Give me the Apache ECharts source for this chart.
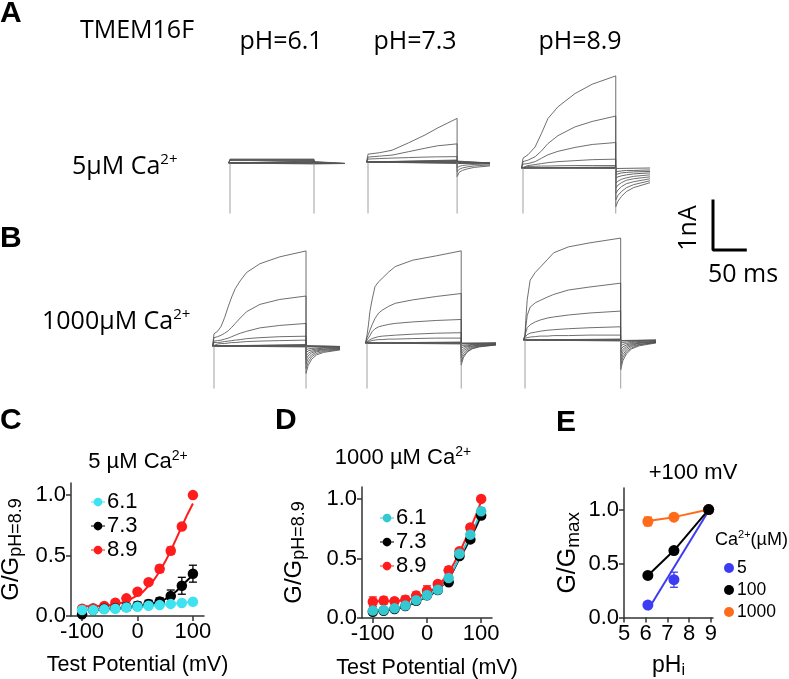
<!DOCTYPE html>
<html><head><meta charset="utf-8">
<script src="https://cdn.jsdelivr.net/npm/echarts@6/dist/echarts.min.js"></script>
<style>html,body{margin:0;padding:0;background:#fff}#c{width:789px;height:679px}</style>
</head><body><div id="c"></div>
<script>
// ================= DATA =================
// Current traces (time in ms from step onset, current in nA)
const STEP_MS = 130;
const TAIL_T = [0, 3, 8, 15, 25, 48];      // ms after step end
const CAP_I = -5;                           // clipped capacitive transient (nA)

// A: 5 uM Ca2+, pH 6.1
const A61_T = [0, 130];
const A61_I = [];
const A61_BAND = [0.08, 0.07, 0.06, 0.05, 0.04, 0.03, 0.02, 0.01, 0, -0.01, -0.02];
const A61_TAIL = [];
const A61_BAND_TAIL = -0.01;
// A: 5 uM Ca2+, pH 7.3
const A73_T = [0, 17, 35, 59, 83, 101, 130];
const A73_I = [
  [0.16, 0.19, 0.24, 0.39, 0.55, 0.69, 0.89],
  [0.10, 0.12, 0.14, 0.21, 0.28, 0.33, 0.37],
  [0.06, 0.07, 0.08, 0.09, 0.10, 0.105, 0.11]
];
const A73_BAND = [0.04, 0.03, 0.02, 0.01, 0, -0.01, -0.02, -0.03];
const A73_TAIL = [
  [-0.30, -0.21, -0.17, -0.14, -0.11, -0.08],
  [-0.20, -0.15, -0.12, -0.10, -0.08, -0.06],
  [-0.12, -0.09, -0.07, -0.06, -0.05, -0.04]
];
const A73_BAND_TAIL = -0.02;
// A: 5 uM Ca2+, pH 8.9
const A89_T = [0, 7, 17, 26, 35, 49, 73, 97, 130];
const A89_I = [
  [0.20, 0.27, 0.43, 0.71, 1.01, 1.25, 1.52, 1.71, 1.88],
  [0.13, 0.16, 0.23, 0.35, 0.50, 0.66, 0.84, 0.95, 1.06],
  [0.08, 0.09, 0.13, 0.20, 0.27, 0.34, 0.42, 0.48, 0.52],
  [0.04, 0.05, 0.07, 0.09, 0.11, 0.13, 0.15, 0.17, 0.18],
  [0.03, 0.03, 0.035, 0.04, 0.04, 0.045, 0.05, 0.05, 0.05]
];
const A89_BAND = [0.02, 0.01, 0, -0.01];
const A89_TAIL = [
  [-0.79, -0.68, -0.58, -0.48, -0.40, -0.30],
  [-0.65, -0.56, -0.48, -0.40, -0.34, -0.26],
  [-0.52, -0.45, -0.38, -0.32, -0.28, -0.22],
  [-0.41, -0.35, -0.30, -0.25, -0.22, -0.18],
  [-0.31, -0.27, -0.23, -0.20, -0.17, -0.14],
  [-0.21, -0.18, -0.16, -0.14, -0.12, -0.10],
  [-0.14, -0.12, -0.10, -0.09, -0.08, -0.07],
  [-0.08, -0.07, -0.06, -0.05, -0.05, -0.04]
];
const A89_BAND_TAIL = 0;
// B: 1000 uM Ca2+, pH 6.1
const B61_T = [0, 5, 10, 15, 20, 25, 30, 37, 46, 65, 93, 130];
const B61_I = [
  [0.25, 0.30, 0.40, 0.58, 0.80, 1.00, 1.17, 1.33, 1.50, 1.68, 1.82, 1.94],
  [0.17, 0.19, 0.22, 0.26, 0.31, 0.38, 0.46, 0.57, 0.70, 0.85, 0.95, 1.02],
  [0.10, 0.11, 0.12, 0.14, 0.16, 0.19, 0.22, 0.26, 0.30, 0.37, 0.42, 0.46],
  [0.07, 0.07, 0.08, 0.09, 0.10, 0.11, 0.12, 0.13, 0.15, 0.17, 0.19, 0.20],
  [0.04, 0.04, 0.05, 0.05, 0.06, 0.07, 0.07, 0.08, 0.09, 0.10, 0.11, 0.12]
];
const B61_BAND = [0.03, 0.02, 0.01, 0, -0.01, -0.02];
const B61_TAIL = [
  [-0.56, -0.40, -0.27, -0.18, -0.13, -0.08],
  [-0.46, -0.33, -0.22, -0.15, -0.11, -0.07],
  [-0.36, -0.26, -0.18, -0.12, -0.09, -0.06],
  [-0.28, -0.20, -0.14, -0.10, -0.07, -0.05],
  [-0.21, -0.15, -0.11, -0.08, -0.06, -0.04],
  [-0.14, -0.10, -0.08, -0.06, -0.04, -0.03],
  [-0.08, -0.06, -0.05, -0.04, -0.03, -0.02]
];
const B61_BAND_TAIL = -0.01;
// B: 1000 uM Ca2+, pH 7.3
const B73_T = [0, 2, 4, 7, 11, 16, 21, 30, 39, 63, 96, 130];
const B73_I = [
  [0.16, 0.37, 0.64, 0.88, 1.15, 1.25, 1.32, 1.45, 1.56, 1.69, 1.78, 1.88],
  [0.11, 0.18, 0.26, 0.37, 0.50, 0.61, 0.67, 0.75, 0.81, 0.88, 0.95, 1.01],
  [0.06, 0.10, 0.15, 0.23, 0.29, 0.33, 0.35, 0.38, 0.40, 0.43, 0.46, 0.48],
  [0.03, 0.05, 0.07, 0.09, 0.11, 0.13, 0.14, 0.15, 0.16, 0.18, 0.20, 0.21],
  [0.02, 0.03, 0.04, 0.05, 0.06, 0.07, 0.07, 0.08, 0.08, 0.09, 0.10, 0.10]
];
const B73_BAND = [0.02, 0.01, 0, -0.01, -0.02];
const B73_TAIL = [
  [-0.45, -0.30, -0.19, -0.12, -0.08, -0.04],
  [-0.38, -0.26, -0.17, -0.11, -0.07, -0.04],
  [-0.30, -0.21, -0.14, -0.09, -0.06, -0.03],
  [-0.23, -0.16, -0.11, -0.07, -0.05, -0.03],
  [-0.17, -0.12, -0.08, -0.06, -0.04, -0.02],
  [-0.11, -0.08, -0.06, -0.04, -0.03, -0.02],
  [-0.06, -0.05, -0.04, -0.03, -0.02, -0.01]
];
const B73_BAND_TAIL = 0;
// B: 1000 uM Ca2+, pH 8.9
const B89_T = [0, 1, 3, 7, 14, 21, 31, 39, 59, 87, 130];
const B89_I = [
  [0.10, 0.40, 0.82, 1.22, 1.38, 1.49, 1.65, 1.78, 1.90, 1.98, 2.08],
  [0.10, 0.25, 0.50, 0.67, 0.76, 0.81, 0.88, 0.93, 1.02, 1.08, 1.16],
  [0.08, 0.15, 0.25, 0.31, 0.37, 0.41, 0.45, 0.47, 0.51, 0.55, 0.59],
  [0.05, 0.08, 0.11, 0.14, 0.16, 0.18, 0.20, 0.21, 0.23, 0.25, 0.27],
  [0.03, 0.04, 0.05, 0.06, 0.07, 0.08, 0.08, 0.09, 0.09, 0.10, 0.10]
];
const B89_BAND = [0.02, 0.01, 0, -0.01, -0.02];
const B89_TAIL = [
  [-0.61, -0.42, -0.28, -0.18, -0.12, -0.06],
  [-0.52, -0.36, -0.24, -0.16, -0.10, -0.05],
  [-0.43, -0.30, -0.20, -0.13, -0.09, -0.05],
  [-0.35, -0.24, -0.16, -0.11, -0.07, -0.04],
  [-0.27, -0.19, -0.13, -0.09, -0.06, -0.03],
  [-0.20, -0.14, -0.10, -0.07, -0.05, -0.03],
  [-0.13, -0.09, -0.07, -0.05, -0.03, -0.02],
  [-0.07, -0.05, -0.04, -0.03, -0.02, -0.01]
];
const B89_BAND_TAIL = 0;

// Scale bar: 1 nA, 50 ms
const SCALE_BAR = [[0, 1], [0, 0], [50, 0]];

// C / D: normalized conductance vs test potential
const V = [-100, -80, -60, -40, -20, 0, 20, 40, 60, 80, 100];
const C_61 = [0.05, 0.05, 0.055, 0.06, 0.07, 0.077, 0.085, 0.09, 0.10, 0.107, 0.118];
const C_61_ERR = [0.005, 0.005, 0.005, 0.005, 0.005, 0.01, 0.01, 0.01, 0.01, 0.01, 0.01];
const C_73 = [0.014, 0.05, 0.06, 0.065, 0.075, 0.085, 0.10, 0.12, 0.165, 0.25, 0.35];
const C_73_ERR = [0.01, 0.01, 0.01, 0.01, 0.03, 0.03, 0.03, 0.03, 0.05, 0.07, 0.07];
const C_89 = [0.06, 0.065, 0.083, 0.11, 0.146, 0.20, 0.28, 0.39, 0.54, 0.74, 1.0];
const C_89_ERR = [0.005, 0.005, 0.01, 0.01, 0.01, 0.01, 0.02, 0.03, 0.03, 0.02, 0];
const FIT_V = [-100, -80, -60, -40, -20, 0, 10, 20, 30, 40, 50, 60, 70, 80, 90, 100];
const C_FIT61 = [0.05, 0.052, 0.056, 0.06, 0.066, 0.073, 0.077, 0.082, 0.086, 0.09, 0.095, 0.10, 0.104, 0.108, 0.113, 0.117];
const C_FIT73 = [0.05, 0.05, 0.055, 0.06, 0.068, 0.08, 0.087, 0.095, 0.105, 0.12, 0.14, 0.17, 0.205, 0.25, 0.295, 0.34];
const C_FIT89 = [0.08, 0.08, 0.085, 0.095, 0.12, 0.17, 0.20, 0.25, 0.30, 0.37, 0.45, 0.54, 0.64, 0.74, 0.84, 0.93];

const D_61 = [0.062, 0.067, 0.081, 0.104, 0.15, 0.193, 0.238, 0.336, 0.54, 0.70, 0.896];
const D_61_ERR = [0.01, 0.01, 0.01, 0.01, 0.01, 0.01, 0.01, 0.02, 0.02, 0.02, 0.03];
const D_73 = [0.053, 0.06, 0.075, 0.10, 0.145, 0.19, 0.235, 0.30, 0.52, 0.66, 0.86];
const D_73_ERR = [0.01, 0.01, 0.01, 0.01, 0.01, 0.01, 0.01, 0.01, 0.02, 0.02, 0.02];
const D_89 = [0.137, 0.146, 0.14, 0.154, 0.188, 0.23, 0.286, 0.40, 0.56, 0.76, 1.0];
const D_89_ERR = [0.04, 0.03, 0.02, 0.03, 0.03, 0.04, 0.02, 0.03, 0.02, 0.02, 0];
const D_FIT61 = [0.06, 0.065, 0.078, 0.10, 0.14, 0.185, 0.21, 0.24, 0.285, 0.34, 0.42, 0.51, 0.60, 0.69, 0.79, 0.89];
const D_FIT73 = [0.055, 0.06, 0.073, 0.095, 0.135, 0.18, 0.205, 0.235, 0.28, 0.33, 0.41, 0.50, 0.58, 0.67, 0.76, 0.86];
const D_FIT89 = [0.14, 0.14, 0.142, 0.15, 0.17, 0.21, 0.235, 0.27, 0.32, 0.38, 0.46, 0.55, 0.65, 0.75, 0.86, 0.98];

// E: G/Gmax at +100 mV vs pHi
const PH = [6.1, 7.3, 8.9];
const E_5 = [0.115, 0.35, 1.0];
const E_5_ERR = [0.01, 0.07, 0];
const E_100 = [0.39, 0.62, 1.0];
const E_100_ERR = [0.01, 0.01, 0];
const E_1000 = [0.89, 0.93, 1.0];
const E_1000_ERR = [0.04, 0.01, 0];
const E_FIT5_X = [6.1, 8.9];
const E_FIT5 = [0.07, 0.99];
const E_FIT100 = [0.39, 0.62, 1.0];
const E_FIT1000 = [0.895, 0.93, 1.0];

// ================= LAYOUT =================
const FONT = "'Liberation Sans', Arial, sans-serif";
const FONT2 = "'Open Sans', 'Liberation Sans', sans-serif";
const PX_PER_NA = 49;
const Y_TOP_NA = 2.3;
const T_MIN = -2, T_MAX = STEP_MS + TAIL_T[TAIL_T.length - 1];

const tracePanels = [
  {x0: 230, x1: 345, base: 163, bottom: 213, T: A61_T, I: A61_I, band: A61_BAND, tail: A61_TAIL, bandTail: A61_BAND_TAIL},
  {x0: 368, x1: 490, base: 162, bottom: 213, T: A73_T, I: A73_I, band: A73_BAND, tail: A73_TAIL, bandTail: A73_BAND_TAIL},
  {x0: 523, x1: 650, base: 168, bottom: 213, T: A89_T, I: A89_I, band: A89_BAND, tail: A89_TAIL, bandTail: A89_BAND_TAIL},
  {x0: 214, x1: 340, base: 346, bottom: 388, T: B61_T, I: B61_I, band: B61_BAND, tail: B61_TAIL, bandTail: B61_BAND_TAIL},
  {x0: 367, x1: 496, base: 343, bottom: 388, T: B73_T, I: B73_I, band: B73_BAND, tail: B73_TAIL, bandTail: B73_BAND_TAIL},
  {x0: 525, x1: 656, base: 340, bottom: 388, T: B89_T, I: B89_I, band: B89_BAND, tail: B89_TAIL, bandTail: B89_BAND_TAIL}
];

const grids = [], xAxes = [], yAxes = [], series = [];

tracePanels.forEach((p) => {
  const gi = grids.length;
  const pxms = (p.x1 - p.x0) / T_MAX;
  const left = p.x0 + T_MIN * pxms;
  const top = p.base - Y_TOP_NA * PX_PER_NA;
  grids.push({left: left, top: top, width: p.x1 - left, height: p.bottom - top, outerBoundsMode: 'none'});
  xAxes.push({type: 'value', gridIndex: gi, min: T_MIN, max: T_MAX, show: false});
  yAxes.push({type: 'value', gridIndex: gi, min: -(p.bottom - p.base) / PX_PER_NA, max: Y_TOP_NA, show: false});
  const line = (data, color, w) => ({
    type: 'line', xAxisIndex: gi, yAxisIndex: gi, data: data, showSymbol: false, symbol: 'none',
    lineStyle: {width: w, color: color}, silent: true, animation: false, clip: true, z: 2
  });
  let k = 0;
  p.I.forEach((row) => {
    const d = [[T_MIN, 0], [0, 0]];
    p.T.forEach((t, j) => d.push([t, row[j]]));
    const tl = p.tail[k++];
    if (tl) tl.forEach((v, j) => d.push([STEP_MS + TAIL_T[j], v]));
    series.push(line(d, '#4a4a4a', 0.8));
  });
  p.band.forEach((v) => {
    const d = [[T_MIN, 0], [0, 0], [0, v], [STEP_MS, v]];
    const tl = p.tail[k++];
    if (tl) tl.forEach((tv, j) => d.push([STEP_MS + TAIL_T[j], tv]));
    else { d.push([STEP_MS, p.bandTail]); d.push([T_MAX, p.bandTail]); }
    series.push(line(d, '#555', 0.9));
  });
  series.push(line([[0, 0], [0, CAP_I]], '#888', 0.8));
  series.push(line([[STEP_MS, 0], [STEP_MS, CAP_I]], '#888', 0.8));
});

// scale bar grid (same ms / nA scale as traces)
{
  const gi = grids.length;
  const pxms = (tracePanels[0].x1 - tracePanels[0].x0) / T_MAX;
  grids.push({left: 713, top: 201, width: 50 * pxms, height: PX_PER_NA, outerBoundsMode: 'none'});
  xAxes.push({type: 'value', gridIndex: gi, min: 0, max: 50, show: false});
  yAxes.push({type: 'value', gridIndex: gi, min: 0, max: 1, show: false});
  series.push({type: 'line', xAxisIndex: gi, yAxisIndex: gi, data: SCALE_BAR, showSymbol: false, symbol: 'none',
    lineStyle: {width: 3, color: '#000', cap: 'square'}, clip: false, silent: true, animation: false});
}

// ---------- C, D, E ----------
const AX = '#333';
function valAxis(gi, min, max, ticks, fmt, extra) {
  return Object.assign({
    type: 'value', gridIndex: gi, min: min, max: max,
    axisLine: {show: true, onZero: false, lineStyle: {color: AX, width: 1.5}},
    axisTick: {show: true, customValues: ticks, length: 5, lineStyle: {color: AX, width: 1.5}},
    axisLabel: {show: true, customValues: ticks, formatter: fmt, fontSize: 22, fontFamily: FONT, color: '#000', margin: 5},
    splitLine: {show: false}, nameMoveOverlap: false
  }, extra);
}
const fmt1 = (v) => v.toFixed(1);
const fmt0 = (v) => String(Math.round(v));

function errRender(color) {
  return function (params, api) {
    const x = api.value(0), y = api.value(1), e = api.value(2);
    if (!e) return null;
    const p1 = api.coord([x, y + e]), p2 = api.coord([x, y - e]);
    const w = 4, st = {stroke: color, lineWidth: 1.3};
    return {type: 'group', children: [
      {type: 'line', shape: {x1: p1[0], y1: p1[1], x2: p2[0], y2: p2[1]}, style: st},
      {type: 'line', shape: {x1: p1[0] - w, y1: p1[1], x2: p1[0] + w, y2: p1[1]}, style: st},
      {type: 'line', shape: {x1: p2[0] - w, y1: p2[1], x2: p2[0] + w, y2: p2[1]}, style: st}
    ]};
  };
}
function addGroup(gi, name, xs, ys, errs, fitX, fitY, color, z, size) {
  series.push({type: 'line', xAxisIndex: gi, yAxisIndex: gi, data: fitX.map((x, i) => [x, fitY[i]]),
    showSymbol: false, symbol: 'none', lineStyle: {width: 2, color: color}, z: 3 + z, silent: true, animation: false});
  series.push({type: 'custom', xAxisIndex: gi, yAxisIndex: gi, renderItem: errRender(color), encode: {x: 0, y: 1},
    data: xs.map((x, i) => [x, ys[i], errs[i]]), z: 4 + z, silent: true, animation: false, clip: false});
  series.push({type: 'scatter', name: name, xAxisIndex: gi, yAxisIndex: gi, data: xs.map((x, i) => [x, ys[i]]),
    symbol: 'circle', symbolSize: size, itemStyle: {color: color, opacity: 1}, z: 5 + z, silent: true, animation: false});
}

const RED = '#ff1c1c', CYAN_C = '#3fe3f0', CYAN_D = '#33c8d2', BLUE = '#3c3cf2', ORANGE = '#ff6b1a';
const richSub = {
  big: {fontSize: 24, fontFamily: FONT, color: '#000', lineHeight: 26},
  sub: {fontSize: 18, fontFamily: FONT, color: '#000', verticalAlign: 'bottom', padding: [10, 0, 0, 0]}
};

// C
const giC = grids.length;
grids.push({left: 71, top: 483, width: 133, height: 133, outerBoundsMode: 'none'});
xAxes.push(valAxis(giC, -120, 120, [-100, 0, 100], fmt0, {name: 'Test Potential (mV)', nameLocation: 'middle', nameGap: 38,
  nameTextStyle: {fontSize: 21.5, fontFamily: FONT, color: '#000'}}));
yAxes.push(valAxis(giC, 0, 1.1, [0, 0.5, 1.0], fmt1, {name: '{big|G/G}{sub|pH=8.9}', nameLocation: 'middle', nameGap: 46, nameRotate: 90,
  nameTextStyle: {rich: richSub}}));
addGroup(giC, 'C8.9', V, C_89, C_89_ERR, FIT_V, C_FIT89, RED, 0, 10.5);
addGroup(giC, 'C7.3', V, C_73, C_73_ERR, FIT_V, C_FIT73, '#000', 1, 10.5);
addGroup(giC, 'C6.1', V, C_61, C_61_ERR, FIT_V, C_FIT61, CYAN_C, 2, 10.5);

// D
const giD = grids.length;
grids.push({left: 362, top: 487, width: 130, height: 131, outerBoundsMode: 'none'});
xAxes.push(valAxis(giD, -120, 120, [-100, 0, 100], fmt0, {name: 'Test Potential (mV)', nameLocation: 'middle', nameGap: 39,
  nameTextStyle: {fontSize: 21.5, fontFamily: FONT, color: '#000'}}));
yAxes.push(valAxis(giD, 0, 1.1, [0, 0.5, 1.0], fmt1, {name: '{big|G/G}{sub|pH=8.9}', nameLocation: 'middle', nameGap: 54, nameRotate: 90,
  nameTextStyle: {rich: richSub}}));
addGroup(giD, 'D8.9', V, D_89, D_89_ERR, FIT_V, D_FIT89, RED, 0, 10.5);
addGroup(giD, 'D7.3', V, D_73, D_73_ERR, FIT_V, D_FIT73, '#000', 1, 10.5);
addGroup(giD, 'D6.1', V, D_61, D_61_ERR, FIT_V, D_FIT61, CYAN_D, 2, 10.5);

// E
const giE = grids.length;
grids.push({left: 624, top: 488, width: 89, height: 129.5, outerBoundsMode: 'none'});
xAxes.push(valAxis(giE, 5, 9.1, [5, 6, 7, 8, 9], fmt0, {name: '{big|pH}{sub|i}', nameLocation: 'middle', nameGap: 35,
  nameTextStyle: {rich: {big: {fontSize: 23, fontFamily: FONT, color: '#000', lineHeight: 24}, sub: {fontSize: 16, fontFamily: FONT, color: '#000', verticalAlign: 'bottom', padding: [10, 0, 0, 0]}}}}));
yAxes.push(valAxis(giE, 0, 1.2, [0, 0.5, 1.0], fmt1, {name: '{big|G/G}{sub|max}', nameLocation: 'middle', nameGap: 41, nameRotate: 90,
  nameTextStyle: {rich: {big: {fontSize: 25, fontFamily: FONT, color: '#000', lineHeight: 27}, sub: {fontSize: 19, fontFamily: FONT, color: '#000', verticalAlign: 'bottom', padding: [10, 0, 0, 0]}}}}));
addGroup(giE, 'E5', PH, E_5, E_5_ERR, E_FIT5_X, E_FIT5, BLUE, 0, 11);
addGroup(giE, 'E1000', PH, E_1000, E_1000_ERR, PH, E_FIT1000, ORANGE, 1, 11);
addGroup(giE, 'E100', PH, E_100, E_100_ERR, PH, E_FIT100, '#000', 2, 11);

// legends
const legendText = (name) => name.replace(/^[CDE]/, '');
const LEG_ICON = 'path://M0,4.4H16V5.6H0Z M8,0A5,5,0,1,1,7.99,0Z';
const legC = {show: true, orient: 'vertical', left: 86, top: 486, itemGap: 2, itemWidth: 14, itemHeight: 10, icon: LEG_ICON,
  data: ['C6.1', 'C7.3', 'C8.9'], formatter: legendText, selectedMode: false,
  textStyle: {fontSize: 22, fontFamily: FONT, color: '#000', padding: [0, 0, 0, -3]}};
const legD = Object.assign({}, legC, {left: 375, top: 502, data: ['D6.1', 'D7.3', 'D8.9']});
const legE = {show: true, orient: 'vertical', left: 719, top: 554, itemGap: 4, itemWidth: 10, itemHeight: 10, icon: 'circle',
  data: ['E5', 'E100', 'E1000'], formatter: legendText, selectedMode: false,
  textStyle: {fontSize: 17.5, fontFamily: FONT, color: '#000', padding: [0, 0, 0, -2]}};

// ---------- texts ----------
function txt(x, y, text, opt) {
  const o = Object.assign({size: 25, family: FONT2, weight: 'normal', align: 'left', va: 'middle', rot: 0, rich: null}, opt || {});
  const style = {text: text, fontSize: o.size, fontFamily: o.family, fontWeight: o.weight, fill: '#000',
    align: o.align, textAlign: o.align, verticalAlign: o.va, textVerticalAlign: o.va};
  if (o.rich) style.rich = o.rich;
  return {type: 'text', x: x, y: y, rotation: o.rot, style: style, silent: true};
}
const supRich = (base, sup, fam) => ({
  b: {fontSize: base, fontFamily: fam, color: '#000', lineHeight: base + 4},
  s: {fontSize: sup, fontFamily: fam, color: '#000', verticalAlign: 'top', padding: [0, 0, base * 0.45, 0]}
});
const graphic = [
  txt(0, 14, 'A', {size: 30, weight: 'bold', family: FONT}),
  txt(0, 239, 'B', {size: 30, weight: 'bold', family: FONT}),
  txt(0, 421, 'C', {size: 30, weight: 'bold', family: FONT}),
  txt(275, 421, 'D', {size: 30, weight: 'bold', family: FONT}),
  txt(556, 423, 'E', {size: 30, weight: 'bold', family: FONT}),
  txt(137, 31, 'TMEM16F', {align: 'center'}),
  txt(281, 42, 'pH=6.1', {align: 'center'}),
  txt(415, 42, 'pH=7.3', {align: 'center'}),
  txt(580, 42, 'pH=8.9', {align: 'center'}),
  txt(72, 167, '{b|5µM Ca}{s|2+}', {rich: supRich(25, 15, FONT2)}),
  txt(42, 322, '{b|1000µM Ca}{s|2+}', {rich: supRich(25, 15, FONT2)}),
  txt(689, 228, '1nA', {align: 'center', rot: Math.PI / 2}),
  txt(708, 275, '50 ms'),
  txt(138, 462, '{b|5 µM Ca}{s|2+}', {align: 'center', rich: supRich(22, 14, FONT)}),
  txt(403, 458, '{b|1000 µM Ca}{s|2+}', {align: 'center', rich: supRich(22, 14, FONT)}),
  txt(693, 473, '+100 mV', {align: 'center', size: 22, family: FONT}),
  txt(715, 540, '{b|Ca}{s|2+}{b|(µM)}', {rich: supRich(18, 11, FONT)})
];

const chart = echarts.init(document.getElementById('c'), null, {renderer: 'canvas'});
chart.setOption({
  animation: false,
  backgroundColor: '#fff',
  grid: grids, xAxis: xAxes, yAxis: yAxes, series: series,
  legend: [legC, legD, legE],
  graphic: graphic,
  tooltip: {show: false}
});
</script></body></html>
